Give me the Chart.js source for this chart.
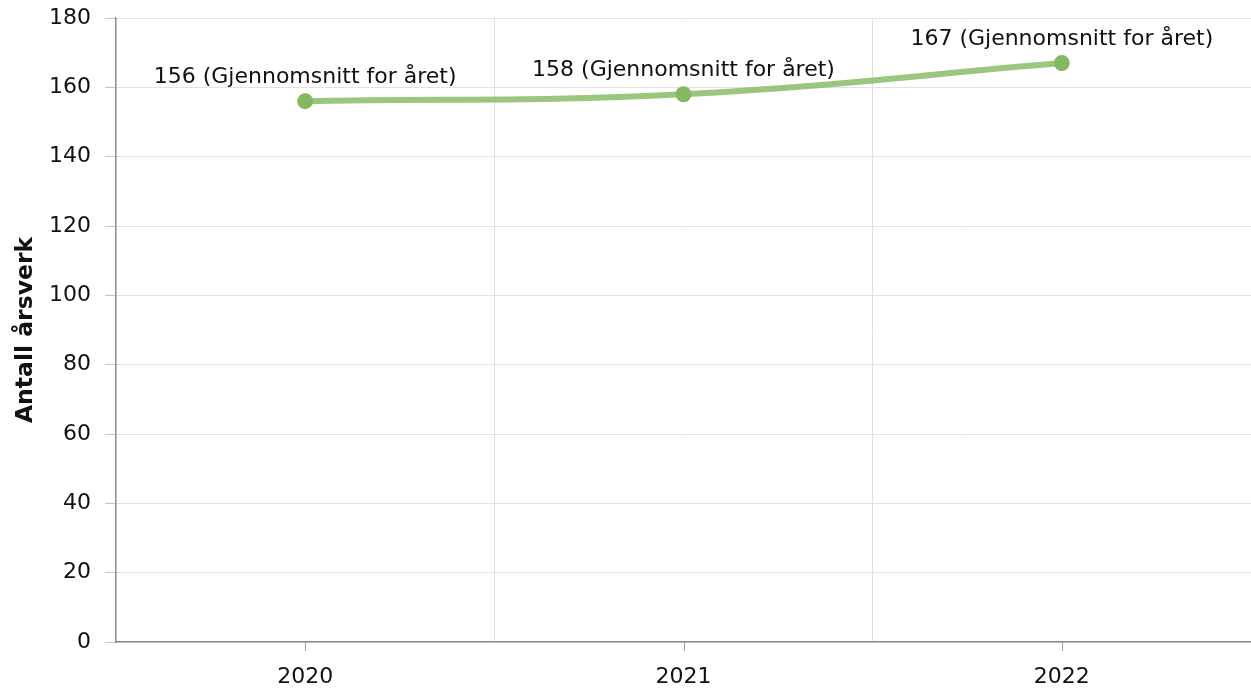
<!DOCTYPE html>
<html>
<head>
<meta charset="utf-8">
<script src="https://cdn.jsdelivr.net/npm/chart.js@4"></script>
<style>
html,body{margin:0;padding:0;background:#fff;}
#wrap{width:1251px;height:690px;position:relative;}
</style>
</head>
<body>
<div id="wrap"><canvas id="c" width="1251" height="690"></canvas></div>
<script>
const categories = ['2020', '2021', '2022'];
const values = [156, 158, 167];
const pointLabels = ['156 (Gjennomsnitt for året)', '158 (Gjennomsnitt for året)', '167 (Gjennomsnitt for året)'];
const yMin = 0, yMax = 180, yStep = 20;
const yTitle = 'Antall årsverk';

const FONT = "'DejaVu Sans', Verdana, sans-serif";

const xTickMarks = {
  id: 'xTickMarks',
  afterDraw(chart) {
    const x = chart.scales.x, ctx = chart.ctx;
    ctx.save();
    ctx.strokeStyle = '#a0a0a0';
    ctx.lineWidth = 1;
    categories.forEach((c, i) => {
      const px = Math.round(x.getPixelForValue(i)) + 0.5;
      ctx.beginPath();
      ctx.moveTo(px, x.top);
      ctx.lineTo(px, x.top + 9);
      ctx.stroke();
    });
    ctx.restore();
  }
};

const dataLabels = {
  id: 'dataLabels',
  afterDatasetsDraw(chart) {
    const meta = chart.getDatasetMeta(0), ctx = chart.ctx;
    ctx.save();
    ctx.font = '22px ' + FONT;
    ctx.fillStyle = '#111';
    ctx.textAlign = 'center';
    ctx.textBaseline = 'middle';
    meta.data.forEach((p, i) => {
      ctx.fillText(pointLabels[i], p.x, p.y - 24);
    });
    ctx.restore();
  }
};

new Chart(document.getElementById('c'), {
  type: 'line',
  data: {
    labels: categories,
    datasets: [{
      data: values,
      borderColor: 'rgba(137,188,102,0.85)',
      borderWidth: 6,
      backgroundColor: '#84b962',
      pointBackgroundColor: '#84b962',
      pointBorderWidth: 0,
      pointRadius: 8,
      tension: 0.4,
      fill: false
    }]
  },
  options: {
    responsive: false,
    animation: false,
    layout: { autoPadding: false, padding: { top: 18, right: 0, left: 0, bottom: 0 } },
    plugins: { legend: { display: false }, tooltip: { enabled: false } },
    scales: {
      x: {
        offset: true,
        grid: { offset: true, color: '#dedede', lineWidth: 1, drawTicks: false },
        border: { color: '#8c8c8c', width: 1.5 },
        ticks: { color: '#111', font: { family: FONT, size: 22 }, padding: 22, maxRotation: 0 },
        afterFit(s) { s.height = 48; s.paddingLeft = 0; s.paddingRight = 0; }
      },
      y: {
        min: yMin, max: yMax,
        ticks: { stepSize: yStep, color: '#111', font: { family: FONT, size: 22 }, padding: 14 },
        grid: { color: '#e2e2e2', lineWidth: 1, tickLength: 11, tickColor: '#c4c4c4' },
        border: { color: '#8c8c8c', width: 1.5 },
        title: { display: true, text: yTitle, color: '#111', font: { family: FONT, size: 23.5, weight: 'bold' }, padding: { top: 12, bottom: 0 } },
        afterFit(s) { s.width = 116; s.paddingTop = 0; s.paddingBottom = 0; }
      }
    }
  },
  plugins: [xTickMarks, dataLabels]
});
</script>
</body>
</html>
